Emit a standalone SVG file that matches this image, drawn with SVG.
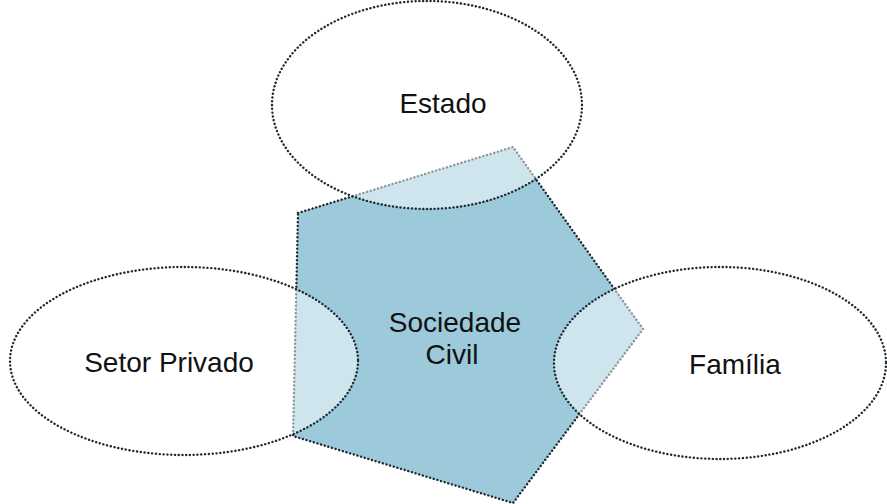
<svg xmlns="http://www.w3.org/2000/svg" width="887" height="504" viewBox="0 0 887 504">
<style>
.dot{stroke:#1e2a30;stroke-width:2.4;stroke-dasharray:0.1 3.7;stroke-linecap:round}
.ell{fill:#ffffff;fill-opacity:0.5}
.lbl{font-family:"Liberation Sans",Arial,sans-serif;font-size:28px;fill:#111;text-anchor:middle}
</style>
<rect width="887" height="504" fill="#ffffff"/>
<g id="sociedade-civil">
<polygon points="298,213 513,147 643,329 513,503 293,436" fill="#9ccadb" class="dot"/>
</g>
<g id="estado">
<ellipse class="ell dot" cx="427" cy="105" rx="155" ry="104"/>
<text class="lbl" x="443" y="113">Estado</text>
</g>
<g id="setor-privado">
<ellipse class="ell dot" cx="184" cy="361" rx="174" ry="94"/>
<text class="lbl" x="169" y="372">Setor Privado</text>
</g>
<g id="familia">
<ellipse class="ell dot" cx="720" cy="363" rx="166" ry="96"/>
<text class="lbl" x="735" y="374">Família</text>
</g>
<g id="sociedade-label">
<text class="lbl"><tspan x="455" y="332">Sociedade</tspan><tspan x="452" y="364">Civil</tspan></text>
</g>
<g id="connectors"/>
</svg>
